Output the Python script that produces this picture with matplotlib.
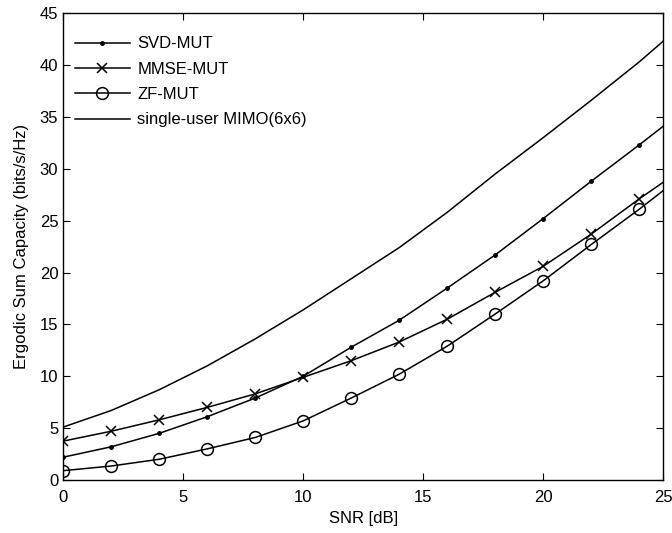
import numpy as np
import matplotlib
matplotlib.use("Agg")
import matplotlib.pyplot as plt

plt.rcParams['font.family'] = ['Liberation Sans', 'DejaVu Sans']

snr = [0, 2, 4, 6, 8, 10, 12, 14, 16, 18, 20, 22, 24, 25]
svd_mut = [2.2, 3.2, 4.5, 6.1, 7.9, 10.0, 12.8, 15.4, 18.5, 21.7, 25.2, 28.8, 32.3, 34.1]
mmse_mut = [3.75, 4.7, 5.8, 7.0, 8.3, 9.9, 11.5, 13.3, 15.5, 18.1, 20.6, 23.7, 27.1, 28.7]
zf_mut = [0.9, 1.35, 2.0, 3.0, 4.1, 5.7, 7.9, 10.2, 12.9, 16.0, 19.2, 22.7, 26.1, 27.9]
su_mimo = [5.1, 6.7, 8.7, 11.0, 13.6, 16.4, 19.4, 22.4, 25.8, 29.5, 33.0, 36.6, 40.3, 42.3]

labels = ['SVD-MUT', 'MMSE-MUT', 'ZF-MUT', 'single-user MIMO(6x6)']

fig = plt.figure(figsize=(6.72, 5.33), dpi=100)
ax = fig.add_axes([0.094, 0.0994, 0.893, 0.876])

# markers only on the even SNR points, line runs to 25
ax.plot(snr, svd_mut, '-', color='k', lw=1.1, marker='.', markersize=5,
        markevery=list(range(13)), label=labels[0])
ax.plot(snr, mmse_mut, '-', color='k', lw=1.1, marker='x', markersize=6.5,
        markeredgewidth=1.1, markevery=list(range(13)), label=labels[1])
ax.plot(snr, zf_mut, '-', color='k', lw=1.1, marker='o', markersize=8.5,
        markerfacecolor='none', markeredgewidth=1.1, markevery=list(range(13)), label=labels[2])
ax.plot(snr, su_mimo, '-', color='k', lw=1.1, label=labels[3])

ax.set_xlim(0, 25)
ax.set_ylim(0, 45)
ax.set_xticks(np.arange(0, 26, 5))
ax.set_yticks(np.arange(0, 46, 5))
ax.tick_params(direction='in', top=True, right=True, labelsize=12, length=5)
ax.tick_params(axis='x', pad=7.5)
for s in ax.spines.values():
    s.set_linewidth(1.0)

ax.set_xlabel('SNR [dB]', fontsize=12)
ax.set_ylabel('Ergodic Sum Capacity (bits/s/Hz)', fontsize=12, labelpad=8)

ax.legend(loc='upper left', frameon=False, fontsize=12, handlelength=3.3,
          handletextpad=0.45, labelspacing=0.62, borderaxespad=0.3,
          bbox_to_anchor=(0.0, 0.975))

fig.savefig('out.png', dpi=100)
